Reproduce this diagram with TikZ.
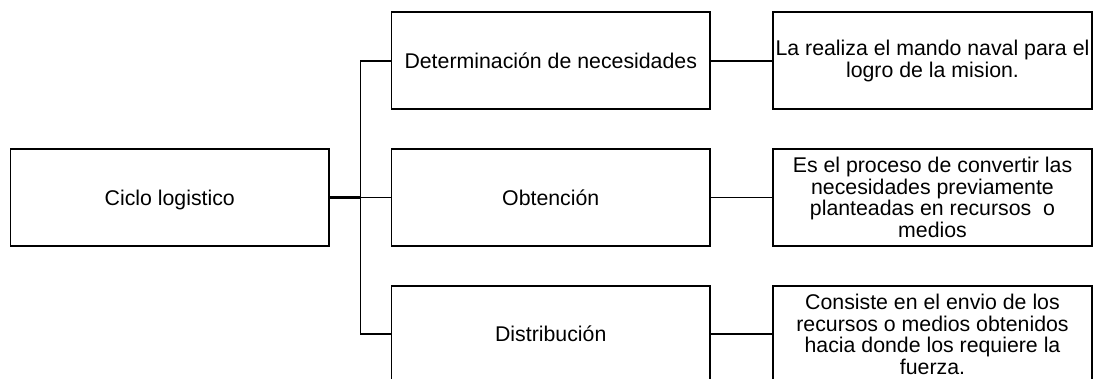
\documentclass[tikz,border=0pt]{standalone}
\usepackage{fontspec}
\setmainfont{Liberation Sans}
\begin{document}
\begin{tikzpicture}[x=1pt,y=-1pt,
  box/.style={draw=black, line width=1.9pt, minimum width=318.5pt, minimum height=96.7pt,
              inner sep=0pt, font=\fontsize{21.3}{21.7}\selectfont},
  single/.style={box, text height=15.3pt, text depth=0pt},
  multi/.style={box, align=center},
  link/.style={draw=black, line width=1.9pt},
  stub/.style={draw=black, line width=2.8pt}]
\useasboundingbox (0,0) rectangle (1093,379);
\node[single] (ciclo) at (169.75,197.5) {Ciclo logistico};
\node[single] (det) at (550.75,60.7) {Determinación de necesidades};
\node[single] (obt) at (550.75,197.5) {Obtención};
\node[single] (dis) at (550.75,334.3) {Distribución};
\node[multi] (r1) at (932.5,60.7) {La realiza el mando naval para el\\logro de la mision.};
\node[multi] (r2) at (932.5,197.5) {Es el proceso de convertir las\\necesidades previamente\\planteadas en recursos~ o\\medios};
\node[multi] (r3) at (932.5,334.3) {Consiste en el envio de los\\recursos o medios obtenidos\\hacia donde los requiere la\\fuerza.};
\coordinate (bus) at (360.5,0);
\draw[stub] (ciclo.east) -- (bus |- ciclo.east);
\draw[link] (bus |- ciclo.east) |- (det.west);
\draw[link] (bus |- ciclo.east) -- (obt.west);
\draw[link] (bus |- ciclo.east) |- (dis.west);
\draw[link] (det.east) -- (r1.west);
\draw[link] (obt.east) -- (r2.west);
\draw[link] (dis.east) -- (r3.west);
\end{tikzpicture}
\end{document}
